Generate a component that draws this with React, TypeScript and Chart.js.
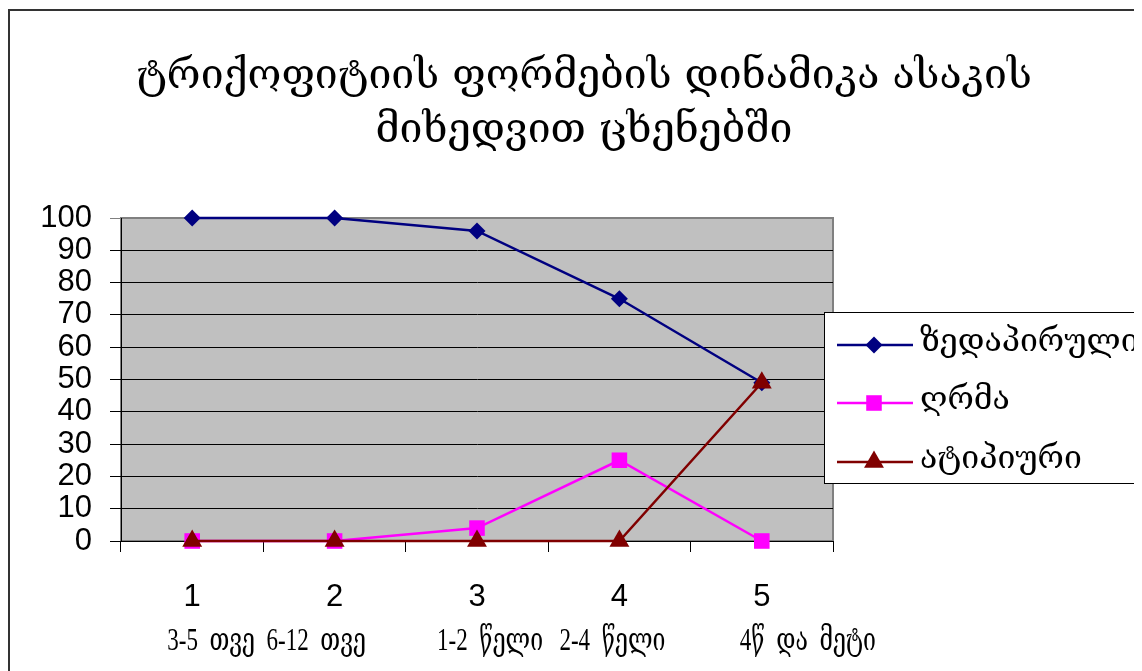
import React, { useEffect, useRef } from 'react';
import { Chart, registerables } from 'chart.js';

Chart.register(...registerables);

// ---- chart data ----
const TITLE_LINES = ['ტრიქოფიტიის ფორმების დინამიკა ასაკის', 'მიხედვით ცხენებში'];
const CATEGORIES = ['1', '2', '3', '4', '5'];
const AGE_LABELS = ['3-5 თვე', '6-12 თვე', '1-2 წელი', '2-4 წელი', '4წ და მეტი'];
const SERIES_NAMES = ['ზედაპირული', 'ღრმა', 'ატიპიური'];
const SUPERFICIAL = [100, 100, 96, 75, 49];
const DEEP = [0, 0, 4, 25, 0];
const ATYPICAL = [0, 0, 0, 0, 49];
const Y_MIN = 0;
const Y_MAX = 100;
const Y_STEP = 10;

// ---- styling ----
const GEO_FONT = '"DejaVu Serif", serif';
const CAPTION_FONT = '"Liberation Serif", "DejaVu Serif", serif';
const SANS_FONT = '"Liberation Sans", Arial, sans-serif';
const SERIES_COLORS = ['#000080', '#FF00FF', '#800000'];
const SERIES_POINTS = ['rectRot', 'rect', 'triangle'] as const;
const SERIES_RADII = [8.5, 11, 11.5];

function drawMarker(ctx: CanvasRenderingContext2D, style: string, x: number, y: number, r: number, color: string) {
  ctx.save();
  ctx.fillStyle = color;
  ctx.beginPath();
  if (style === 'rectRot') {
    ctx.moveTo(x, y - r);
    ctx.lineTo(x + r, y);
    ctx.lineTo(x, y + r);
    ctx.lineTo(x - r, y);
  } else if (style === 'rect') {
    const h = r * Math.SQRT1_2;
    ctx.rect(x - h, y - h, 2 * h, 2 * h);
  } else {
    const s = Math.sin(Math.PI / 3) * r;
    ctx.moveTo(x, y - r);
    ctx.lineTo(x + s, y + r / 2);
    ctx.lineTo(x - s, y + r / 2);
  }
  ctx.closePath();
  ctx.fill();
  ctx.restore();
}

// page background, outer frame and grey plot area
const framePlugin = {
  id: 'frame',
  beforeDraw(chart: any) {
    const { ctx, chartArea: a, width, height } = chart;
    ctx.save();
    ctx.fillStyle = '#FFFFFF';
    ctx.fillRect(0, 0, width, height);
    ctx.strokeStyle = '#333333';
    ctx.lineWidth = 2;
    ctx.strokeRect(1, 2, width + 10, height + 10);
    ctx.fillStyle = '#C0C0C0';
    ctx.fillRect(a.left, a.top, a.right - a.left, a.bottom - a.top);
    ctx.strokeStyle = '#808080';
    ctx.lineWidth = 2;
    ctx.strokeRect(a.left, a.top, a.right - a.left, a.bottom - a.top);
    ctx.restore();
  },
};

// two-line heading above the plot
const headingPlugin = {
  id: 'heading',
  afterDraw(chart: any) {
    const { ctx } = chart;
    ctx.save();
    ctx.fillStyle = '#000000';
    ctx.font = `41px ${GEO_FONT}`;
    ctx.textAlign = 'center';
    ctx.textBaseline = 'alphabetic';
    const baselines = [80, 134];
    TITLE_LINES.forEach((line, i) => ctx.fillText(line, 576, baselines[i]));
    ctx.restore();
  },
};

// second row of category captions (age groups)
const AGE_OFFSETS = [-25, -68, -40, -60, -22];
const ageLabelPlugin = {
  id: 'ageLabels',
  afterDraw(chart: any) {
    const { ctx } = chart;
    const xs = chart.scales.x;
    ctx.save();
    ctx.fillStyle = '#000000';
    ctx.font = `32px ${CAPTION_FONT}`;
    ctx.textAlign = 'left';
    ctx.textBaseline = 'alphabetic';
    (ctx as any).wordSpacing = '8px';
    AGE_LABELS.forEach((txt, i) => {
      ctx.save();
      ctx.translate(xs.getPixelForValue(i) + AGE_OFFSETS[i], 642);
      ctx.scale(0.72, 1);
      ctx.fillText(txt, 0, 0);
      ctx.restore();
    });
    ctx.restore();
  },
};

// boxed legend overlapping the right edge of the plot
const legendPlugin = {
  id: 'boxLegend',
  afterDraw(chart: any) {
    const { ctx } = chart;
    const bx = 816.5;
    const by = 304.5;
    ctx.save();
    ctx.fillStyle = '#FFFFFF';
    ctx.fillRect(bx, by, 400, 171);
    ctx.strokeStyle = '#000000';
    ctx.lineWidth = 1;
    ctx.strokeRect(bx, by, 400, 171);
    const rows = [337, 395, 454];
    SERIES_NAMES.forEach((name, i) => {
      const y = rows[i];
      ctx.strokeStyle = SERIES_COLORS[i];
      ctx.lineWidth = 2.5;
      ctx.beginPath();
      ctx.moveTo(829, y);
      ctx.lineTo(905, y);
      ctx.stroke();
      drawMarker(ctx, SERIES_POINTS[i], 866, y, SERIES_RADII[i], SERIES_COLORS[i]);
      ctx.fillStyle = '#000000';
      ctx.font = `32px ${GEO_FONT}`;
      ctx.textAlign = 'left';
      ctx.textBaseline = 'alphabetic';
      ctx.fillText(name, 912, y + 6);
    });
    ctx.restore();
  },
};

export default function App() {
  const canvasRef = useRef<HTMLCanvasElement>(null);

  useEffect(() => {
    const values = [SUPERFICIAL, DEEP, ATYPICAL];
    const chart = new Chart(canvasRef.current!, {
      type: 'line',
      data: {
        labels: CATEGORIES,
        datasets: SERIES_NAMES.map((name, i) => ({
          label: name,
          data: values[i],
          borderColor: SERIES_COLORS[i],
          backgroundColor: SERIES_COLORS[i],
          borderWidth: 2.5,
          pointStyle: SERIES_POINTS[i],
          pointRadius: SERIES_RADII[i],
          pointBorderWidth: 0,
          pointBackgroundColor: SERIES_COLORS[i],
          tension: 0,
          fill: false,
          clip: false,
          order: 2 - i,
        })),
      },
      options: {
        responsive: false,
        animation: false,
        events: [],
        layout: { padding: { top: 210, left: 0, right: 309, bottom: 0 } },
        plugins: {
          legend: { display: false },
          tooltip: { enabled: false },
          title: { display: false },
        },
        scales: {
          x: {
            type: 'category',
            offset: true,
            grid: {
              offset: true,
              drawOnChartArea: false,
              drawTicks: true,
              tickLength: 11,
              color: '#000000',
              lineWidth: 1,
            },
            border: { color: '#000000', width: 1 },
            ticks: {
              color: '#000000',
              font: { family: SANS_FONT, size: 31 },
              padding: 27,
              maxRotation: 0,
              autoSkip: false,
            },
            afterFit: (s: any) => {
              s.height = 130;
            },
          },
          y: {
            min: Y_MIN,
            max: Y_MAX,
            ticks: {
              stepSize: Y_STEP,
              autoSkip: false,
              color: '#000000',
              font: { family: SANS_FONT, size: 31, lineHeight: 1 },
              padding: 18,
            },
            grid: {
              tickLength: 11,
              color: (c: any) => (c.tick && c.tick.value === Y_MAX ? '#808080' : '#000000'),
              lineWidth: 1,
            },
            border: { color: '#000000', width: 1 },
            afterFit: (s: any) => {
              s.width = 113;
            },
          },
        },
      },
      plugins: [framePlugin, headingPlugin, legendPlugin, ageLabelPlugin],
    });
    return () => chart.destroy();
  }, []);

  return (
    <div style={{ width: 1134, height: 663 }}>
      <canvas ref={canvasRef} width={1134} height={663} style={{ display: 'block' }} />
    </div>
  );
}
